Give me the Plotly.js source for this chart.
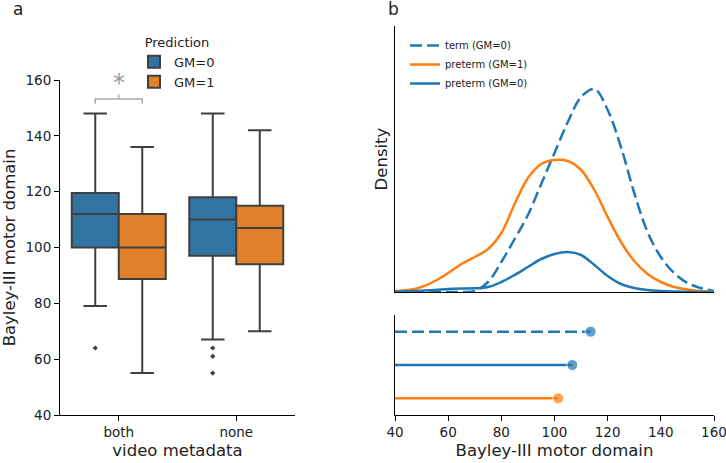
<!DOCTYPE html>
<html>
<head>
<meta charset="utf-8">
<script src="https://cdn.plot.ly/plotly-3.0.1.min.js"></script>
<style>
  html, body { margin: 0; padding: 0; background: #fff; }
  #plot { width: 726px; height: 463px; }
</style>
</head>
<body>
<div id="plot"></div>
<script>
// panel a: box plot stats per video metadata category
const categories = ['both', 'none'];

const gm0Q1 = [100, 97];
const gm0Median = [112, 110];
const gm0Q3 = [119.5, 118];
const gm0Lower = [79, 67];
const gm0Upper = [148, 148];
const gm0OutlierCat = ['both', 'none', 'none', 'none'];
const gm0OutlierVal = [64, 64, 61, 55];

const gm1Q1 = [88.7, 94];
const gm1Median = [100, 107];
const gm1Q3 = [112, 115];
const gm1Lower = [55, 70];
const gm1Upper = [136, 142];

// panel b: density curves
const kdeX = [40, 45, 50, 55, 60, 65, 70, 75, 80, 85, 90, 95, 100, 105, 110, 115, 120, 125, 130, 135, 140, 145, 150, 155, 160];
const termGM0 = [0, 0, 0, 0, 0, 0, 0.0001, 0.0010, 0.0030, 0.0053, 0.0077, 0.0108, 0.0139, 0.0170, 0.0195, 0.0203, 0.0182, 0.0145, 0.0099, 0.0060, 0.0035, 0.0019, 0.0009, 0.0004, 0.0001];
const pretermGM1 = [0.0001, 0.0002, 0.0005, 0.0011, 0.0019, 0.0028, 0.0035, 0.0043, 0.0059, 0.0088, 0.0114, 0.0128, 0.0132, 0.0131, 0.0122, 0.0102, 0.0075, 0.0050, 0.0031, 0.0018, 0.0010, 0.0005, 0.00025, 0.0001, 0.00005];
const pretermGM0 = [0.00003, 0.00007, 0.00013, 0.0002, 0.0003, 0.00035, 0.00037, 0.0005, 0.0010, 0.0017, 0.0025, 0.0033, 0.0038, 0.0040, 0.0037, 0.0027, 0.0016, 0.0008, 0.0004, 0.0002, 0.0001, 0.00005, 0.00002, 0.00001, 0];

// means for the lollipop panel
const groupNames = ['term (GM=0)', 'preterm (GM=1)', 'preterm (GM=0)'];
const groupMeans = [113.6, 101.4, 106.7];
// lollipop rows, bottom to top
const lollipopOrder = ['preterm (GM=1)', 'preterm (GM=0)', 'term (GM=0)'];

const boxBlue = '#3274a1';
const boxOrange = '#e1812c';
const edge = '#3f3f3f';
const mplBlue = '#1f77b4';
const mplOrange = '#ff7f0e';

const catPos = c => categories.indexOf(c);
const offset = 0.2;

let boxGM0 = {
  type: 'box',
  name: 'GM=0',
  x: categories.map(c => catPos(c) - offset),
  q1: gm0Q1, median: gm0Median, q3: gm0Q3,
  lowerfence: gm0Lower, upperfence: gm0Upper,
  width: 0.4,
  whiskerwidth: 0.5,
  fillcolor: boxBlue,
  line: {color: edge, width: 2},
  boxpoints: false,
  xaxis: 'x', yaxis: 'y',
  legend: 'legend'
};

let boxGM1 = {
  type: 'box',
  name: 'GM=1',
  x: categories.map(c => catPos(c) + offset),
  q1: gm1Q1, median: gm1Median, q3: gm1Q3,
  lowerfence: gm1Lower, upperfence: gm1Upper,
  width: 0.4,
  whiskerwidth: 0.5,
  fillcolor: boxOrange,
  line: {color: edge, width: 2},
  boxpoints: false,
  xaxis: 'x', yaxis: 'y',
  legend: 'legend'
};

let outliers = {
  type: 'scatter',
  mode: 'markers',
  x: gm0OutlierCat.map(c => catPos(c) - offset),
  y: gm0OutlierVal,
  marker: {symbol: 'diamond', size: 4, color: edge},
  showlegend: false,
  xaxis: 'x', yaxis: 'y'
};

const kdeStyles = [
  {color: mplBlue, dash: '12px,5px'},
  {color: mplOrange, dash: 'solid'},
  {color: mplBlue, dash: 'solid'}
];
const kdeData = [termGM0, pretermGM1, pretermGM0];

let kdeTraces = kdeData.map((d, i) => ({
  type: 'scatter',
  mode: 'lines',
  name: groupNames[i],
  x: kdeX,
  y: d,
  line: {color: kdeStyles[i].color, width: 2.5, dash: kdeStyles[i].dash, shape: 'spline', smoothing: 1},
  xaxis: 'x2', yaxis: 'y2',
  legend: 'legend2'
}));

let lollipops = groupMeans.map((m, i) => {
  const row = lollipopOrder.indexOf(groupNames[i]);
  return {
    type: 'scatter',
    mode: 'lines+markers',
    x: [40, m],
    y: [row, row],
    line: {color: kdeStyles[i].color, width: 2.5, dash: kdeStyles[i].dash},
    marker: {size: [0, 11], color: kdeStyles[i].color},
    showlegend: false,
    xaxis: 'x3', yaxis: 'y3'
  };
});

let data = [boxGM0, boxGM1, outliers, ...kdeTraces, ...lollipops];

const W = 726, H = 463;
const px = v => v / W;
const py = v => 1 - v / H;

const font = {family: 'DejaVu Sans, sans-serif', color: '#222'};

const baseAxis = {
  showline: true, linecolor: '#000', linewidth: 1,
  showgrid: false, zeroline: false,
  ticks: 'outside', ticklen: 5, tickcolor: '#000', tickwidth: 1,
  tickfont: {size: 13.5, color: '#222'},
  ticklabeloverflow: 'allow'
};

let layout = {
  width: W, height: H,
  margin: {l: 0, r: 0, t: 0, b: 0},
  paper_bgcolor: '#fff', plot_bgcolor: '#fff',
  font: font,
  showlegend: true,
  xaxis: Object.assign({}, baseAxis, {
    domain: [px(60), px(295)], anchor: 'y',
    range: [-0.5, 1.5], tickvals: [0, 1], ticktext: categories,
    title: {text: 'video metadata', font: {size: 16.5}, standoff: 5}
  }),
  yaxis: Object.assign({}, baseAxis, {
    domain: [py(415), py(80)], anchor: 'x',
    range: [40, 160], dtick: 20,
    title: {text: 'Bayley-III motor domain', font: {size: 16.5}, standoff: 6}
  }),
  xaxis2: Object.assign({}, baseAxis, {
    domain: [px(395), px(714)], anchor: 'y2',
    range: [40, 160], ticks: '', showticklabels: false
  }),
  yaxis2: Object.assign({}, baseAxis, {
    domain: [py(292), py(26)], anchor: 'x2',
    range: [0, 0.0266], ticks: '', showticklabels: false,
    title: {text: 'Density', font: {size: 16.5}, standoff: 2}
  }),
  xaxis3: Object.assign({}, baseAxis, {
    domain: [px(395), px(714)], anchor: 'y3',
    range: [40, 160], dtick: 20,
    title: {text: 'Bayley-III motor domain', font: {size: 16.5}, standoff: 5}
  }),
  yaxis3: Object.assign({}, baseAxis, {
    domain: [py(415), py(315)], anchor: 'x3',
    range: [-0.5, 2.5], ticks: '', showticklabels: false
  }),
  legend: {
    x: px(134), y: py(30), xanchor: 'left', yanchor: 'top',
    bgcolor: 'rgba(0,0,0,0)',
    font: {size: 13, color: '#222'},
    title: {text: 'Prediction', side: 'top center', font: {size: 13, color: '#222'}}
  },
  legend2: {
    x: px(405), y: py(31), xanchor: 'left', yanchor: 'top',
    bgcolor: 'rgba(0,0,0,0)',
    font: {size: 10, color: '#222'}
  },
  shapes: [{
    type: 'path', xref: 'x', yref: 'y',
    path: 'M -0.2,151.5 L -0.2,153.2 L 0.2,153.2 L 0.2,151.5 M 0,153.2 L 0,154.8',
    line: {color: '#aaaaaa', width: 1.5}
  }],
  annotations: [
    {xref: 'x', yref: 'y', x: 0, y: 159, text: '*', showarrow: false,
     font: {size: 24, color: '#999999'}, xanchor: 'center', yanchor: 'middle'},
    {xref: 'paper', yref: 'paper', x: px(18), y: py(9), text: 'a', showarrow: false,
     font: {size: 17, color: '#222'}, xanchor: 'center', yanchor: 'middle'},
    {xref: 'paper', yref: 'paper', x: px(393), y: py(9), text: 'b', showarrow: false,
     font: {size: 17, color: '#222'}, xanchor: 'center', yanchor: 'middle'}
  ]
};

Plotly.newPlot('plot', data, layout, {staticPlot: true});
</script>
</body>
</html>
